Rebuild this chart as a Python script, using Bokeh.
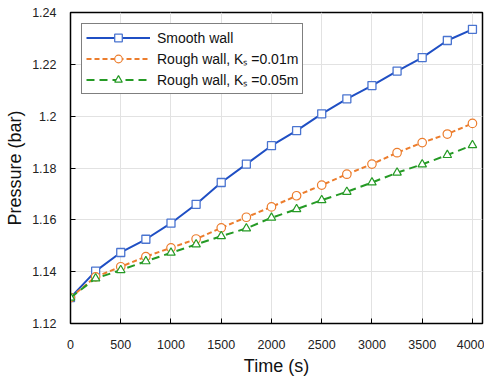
from bokeh.plotting import figure
from bokeh.embed import file_html
from bokeh.resources import INLINE
from bokeh.models import Range1d, FixedTicker, Legend, LegendItem

time_s = [0, 250, 500, 750, 1000, 1250, 1500, 1750, 2000, 2250, 2500, 2750, 3000, 3250, 3500, 3750, 4000]
smooth = [1.130, 1.1402, 1.1474, 1.1525, 1.1587, 1.1660, 1.1744, 1.1815, 1.1886, 1.1944, 1.2009, 1.2067, 1.2118, 1.2174, 1.2226, 1.2292, 1.2335]
rough_001 = [1.130, 1.1380, 1.1419, 1.1458, 1.1492, 1.1526, 1.1569, 1.1610, 1.1650, 1.1693, 1.1734, 1.1776, 1.1815, 1.1859, 1.1898, 1.1931, 1.1972]
rough_005 = [1.130, 1.1374, 1.1406, 1.1440, 1.1473, 1.1505, 1.1537, 1.1567, 1.1608, 1.1641, 1.1676, 1.1708, 1.1744, 1.1782, 1.1814, 1.1850, 1.1888]
x_ticks = [0, 500, 1000, 1500, 2000, 2500, 3000, 3500, 4000]
y_ticks = [1.12, 1.14, 1.16, 1.18, 1.2, 1.22, 1.24]
y_tick_labels = {1.12: "1.12", 1.14: "1.14", 1.16: "1.16", 1.18: "1.18", 1.2: "1.2", 1.22: "1.22", 1.24: "1.24"}
labels = ["Smooth wall", "Rough wall, K\u209b =0.01m", "Rough wall, K\u209b =0.05m"]

FONT = "Liberation Sans"

p = figure(frame_width=412, frame_height=311, output_backend="svg", toolbar_location=None,
           x_range=Range1d(0, 4100), y_range=Range1d(1.12, 1.24),
           min_border_left=70, min_border_right=2, min_border_top=12, min_border_bottom=2)

p.outline_line_color = "black"
p.outline_line_width = 1.5

for ax in (p.xaxis[0], p.yaxis[0]):
    ax.major_label_text_font = FONT
    ax.major_label_text_font_size = "12.5px"
    ax.major_label_text_color = "#222222"
    ax.axis_label_text_font = FONT
    ax.axis_label_text_font_size = "18px"
    ax.axis_label_text_font_style = "normal"
    ax.axis_label_text_color = "#111111"
    ax.major_tick_in = 5
    ax.major_tick_out = 0
    ax.minor_tick_line_color = None
    ax.axis_line_color = "black"
    ax.major_tick_line_color = "black"

p.xaxis.ticker = FixedTicker(ticks=x_ticks)
p.yaxis.ticker = FixedTicker(ticks=y_ticks)
p.yaxis.major_label_overrides = y_tick_labels
p.xaxis.axis_label = "Time (s)"
p.yaxis.axis_label = "Pressure (bar)"
p.xaxis.major_label_standoff = 16
p.yaxis.major_label_standoff = 14
p.xaxis.axis_label_standoff = 4
p.yaxis.axis_label_standoff = 4

p.xgrid.ticker = FixedTicker(ticks=x_ticks)
p.ygrid.ticker = FixedTicker(ticks=y_ticks)
p.grid.grid_line_color = "#e2e2e2"
p.grid.grid_line_width = 1

blue = "#1f4fc4"
orange = "#ec7d2d"
green = "#259a25"

l1 = p.line(time_s, smooth, line_color=blue, line_width=2)
m1 = p.scatter(time_s, smooth, marker="square", size=8, line_color="#4a74d0", fill_color="white", line_width=1.3)
l2 = p.line(time_s, rough_001, line_color=orange, line_width=2, line_dash="5 3")
m2 = p.scatter(time_s, rough_001, marker="circle", size=8.5, line_color=orange, fill_color="white", line_width=1.2)
l3 = p.line(time_s, rough_005, line_color=green, line_width=2, line_dash="8 5")
m3 = p.scatter(time_s, rough_005, marker="triangle", size=8.5, line_color=green, fill_color="white", line_width=1.2)

legend = Legend(items=[
    LegendItem(label=labels[0], renderers=[l1, m1]),
    LegendItem(label=labels[1], renderers=[l2, m2]),
    LegendItem(label=labels[2], renderers=[l3, m3]),
], location="top_left")
legend.margin = 11
legend.padding = 4
legend.spacing = 2
legend.glyph_width = 64
legend.glyph_height = 19
legend.label_height = 19
legend.label_standoff = 7
legend.label_text_font = FONT
legend.label_text_font_size = "14px"
legend.label_text_color = "#111111"
legend.border_line_color = "black"
legend.border_line_width = 1.5
legend.background_fill_alpha = 1
p.add_layout(legend)

open("out.html", "w").write(file_html(p, INLINE))
